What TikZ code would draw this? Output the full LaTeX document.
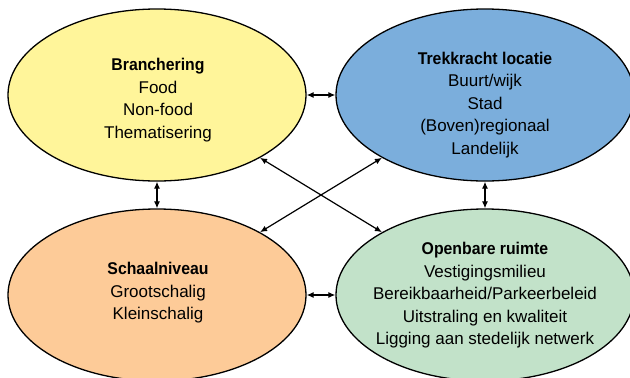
\documentclass[tikz,border=0pt]{standalone}
\usepackage{fontspec}
\setmainfont{Liberation Sans}
\newfontfamily\titlefont{Liberation Sans Bold}[FakeStretch=0.93]
\usetikzlibrary{shapes.geometric,arrows.meta}
\definecolor{cyellow}{HTML}{FFF59A}
\definecolor{cblue}{HTML}{7BAEDC}
\definecolor{corange}{HTML}{FDCB98}
\definecolor{cgreen}{HTML}{C2E2C9}
\tikzset{
  blob/.style={ellipse, draw=black, line width=1.3pt, minimum width=298pt, minimum height=172pt, inner sep=0pt},
  txt/.style={align=center, font=\fontsize{17}{22.5}\selectfont, inner sep=0pt},
  link/.style={{Latex[length=7pt,width=6pt]}-{Latex[length=7pt,width=6pt]}, line width=1.2pt},
}
\begin{document}
\begin{tikzpicture}[x=1pt,y=-1pt]
\useasboundingbox (0,0) rectangle (630,378);
\clip (0,0) rectangle (630,378);
\node[blob, fill=cyellow] (a) at (157,95) {};
\node[blob, fill=cblue] (b) at (485,95) {};
\node[blob, fill=corange] (c) at (157,295) {};
\node[blob, fill=cgreen] (d) at (485,295) {};
\node[txt] (ta) at (158,100) {{\titlefont Branchering}\\Food\\Non-food\\Thematisering};
\node[txt] (tb) at (485,105) {{\titlefont Trekkracht locatie}\\Buurt/wijk\\Stad\\(Boven)regionaal\\Landelijk};
\node[txt] (tc) at (158,293) {{\titlefont Schaalniveau}\\Grootschalig\\Kleinschalig};
\node[txt] (td) at (485,295.5) {{\titlefont Openbare ruimte}\\Vestigingsmilieu\\Bereikbaarheid/Parkeerbeleid\\Uitstraling en kwaliteit\\Ligging aan stedelijk netwerk};
\draw[link] (a.east) -- (b.west);
\draw[link] (c.east) -- (d.west);
\draw[link] (a.south) -- (c.north);
\draw[link] (b.south) -- (d.north);
\draw[link] (a) -- (d);
\draw[link] (b) -- (c);
\end{tikzpicture}
\end{document}
